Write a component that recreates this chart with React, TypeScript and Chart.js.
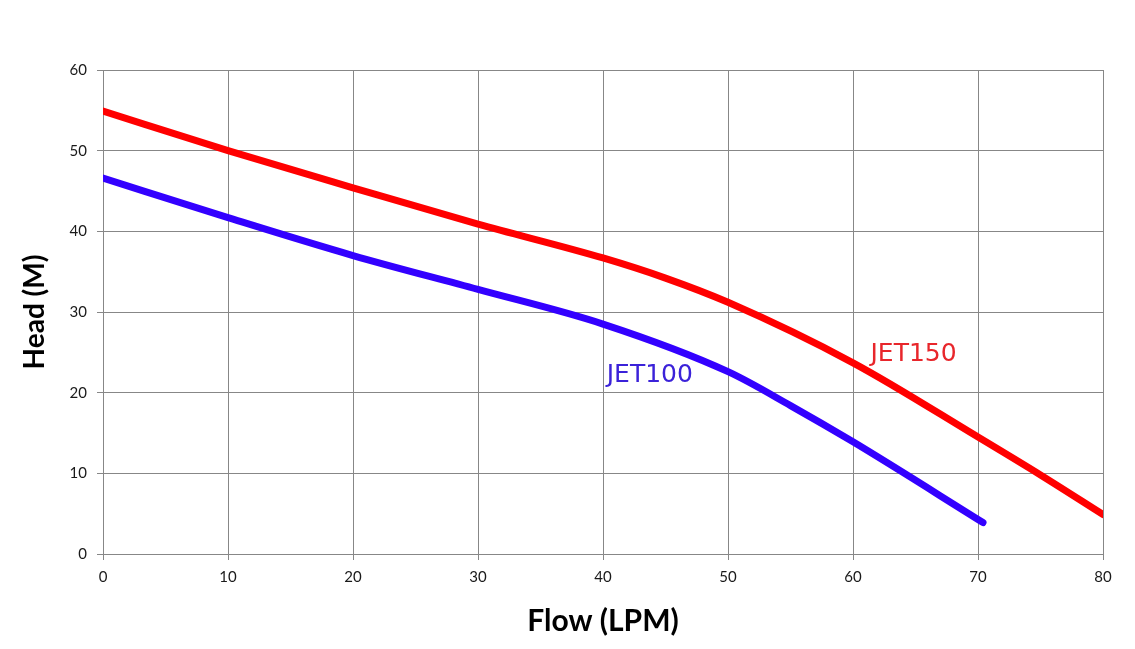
import React, { useEffect, useRef } from "react";
import { Chart, registerables } from "chart.js";

Chart.register(...registerables);

const jet150Flow = [0, 10, 20, 30, 40, 45, 50, 60, 70, 75, 80];
const jet150Head = [54.9, 50.0, 45.4, 40.9, 36.7, 34.2, 31.2, 23.7, 14.5, 9.8, 4.9];
const jet100Flow = [0, 10, 20, 30, 40, 50, 55, 60, 70.4];
const jet100Head = [46.6, 41.7, 37.0, 32.8, 28.5, 22.6, 18.4, 13.9, 3.9];

const seriesNames = ["JET150", "JET100"];
const seriesColors = ["#ff0000", "#3300ff"];
const labelColors = ["#e8262b", "#3b22d9"];
const labelFlow = [61.4, 40.3];
const labelHead = [23.9, 21.3];

const xTicks = [0, 10, 20, 30, 40, 50, 60, 70, 80];
const yTicks = [0, 10, 20, 30, 40, 50, 60];

const toPoints = (xs: number[], ys: number[]) => xs.map((x, i) => ({ x, y: ys[i] }));

const seriesLabelPlugin = {
  id: "seriesLabels",
  afterDatasetsDraw(chart: any) {
    const { ctx, scales } = chart;
    ctx.save();
    ctx.font = "25px 'DejaVu Sans'";
    ctx.textAlign = "left";
    ctx.textBaseline = "alphabetic";
    seriesNames.forEach((name, i) => {
      ctx.fillStyle = labelColors[i];
      ctx.fillText(name, scales.x.getPixelForValue(labelFlow[i]), scales.y.getPixelForValue(labelHead[i]));
    });
    ctx.restore();
  },
};

export default function App() {
  const ref = useRef<HTMLCanvasElement | null>(null);
  useEffect(() => {
    if (!ref.current) return;
    const grid = "#878787";
    const chart = new Chart(ref.current, {
      type: "line",
      data: {
        datasets: [
          {
            label: seriesNames[0],
            data: toPoints(jet150Flow, jet150Head),
            borderColor: seriesColors[0],
            backgroundColor: seriesColors[0],
            borderWidth: 7,
            pointRadius: 0,
            cubicInterpolationMode: "monotone",
            borderCapStyle: "round",
            borderJoinStyle: "round",
          },
          {
            label: seriesNames[1],
            data: toPoints(jet100Flow, jet100Head),
            borderColor: seriesColors[1],
            backgroundColor: seriesColors[1],
            borderWidth: 7,
            pointRadius: 0,
            cubicInterpolationMode: "monotone",
            borderCapStyle: "round",
            borderJoinStyle: "round",
          },
        ],
      },
      options: {
        responsive: false,
        animation: false,
        layout: { padding: { top: 70, right: 32, left: 0, bottom: 0 } },
        plugins: { legend: { display: false }, tooltip: { enabled: false } },
        scales: {
          x: {
            type: "linear",
            min: 0,
            max: 80,
            afterFit: (s: any) => { s.height = 95; },
            afterBuildTicks: (s: any) => { s.ticks = xTicks.map((v) => ({ value: v })); },
            grid: { color: grid, lineWidth: 1, tickLength: 6, drawTicks: true, tickColor: grid },
            border: { color: grid, width: 1 },
            ticks: { color: "#1a1a1a", font: { family: "Lato", size: 15 }, padding: 8, maxRotation: 0 },
            title: {
              display: true,
              text: "Flow (LPM)",
              color: "#000",
              font: { family: "Lato", size: 30, weight: "bold" },
              padding: { top: 0, bottom: 10 },
            },
          },
          y: {
            type: "linear",
            min: 0,
            max: 60,
            afterFit: (s: any) => { s.width = 103; },
            afterBuildTicks: (s: any) => { s.ticks = yTicks.map((v) => ({ value: v })); },
            grid: { color: grid, lineWidth: 1, tickLength: 6, drawTicks: true, tickColor: grid },
            border: { color: grid, width: 1 },
            ticks: { color: "#1a1a1a", font: { family: "Lato", size: 15 }, padding: 10 },
            title: {
              display: true,
              text: "Head (M)",
              color: "#000",
              font: { family: "Lato", size: 28, weight: "bold" },
              padding: { top: 18, bottom: 0 },
            },
          },
        },
      },
      plugins: [seriesLabelPlugin],
    } as any);
    return () => chart.destroy();
  }, []);
  return (
    <div style={{ position: "absolute", left: 0, top: 0, width: 1135, height: 649, background: "#fff" }}>
      <canvas ref={ref} width={1135} height={649} style={{ display: "block" }} />
    </div>
  );
}
